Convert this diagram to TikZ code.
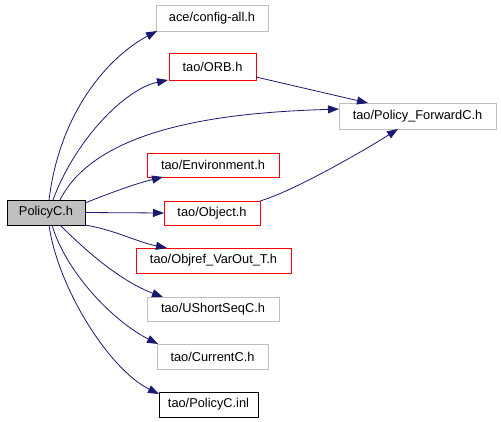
\documentclass[tikz,border=0pt]{standalone}
\usepackage{fontspec}
\setmainfont{Liberation Sans}
\usepackage{tikz}
\usetikzlibrary{arrows.meta, positioning, calc}
\usepackage{xcolor}
\definecolor{edgeblue}{RGB}{25,25,112}
\definecolor{boxgray}{RGB}{191,191,191}
\definecolor{boxred}{RGB}{255,0,0}
\tikzset{
  inc/.style={rectangle, draw=boxgray, fill=white, line width=0.9pt,
    minimum height=25pt, inner sep=0pt, outer sep=0pt,
    font=\fontsize{12.8}{15}\selectfont},
  incR/.style={inc, draw=boxred},
  incK/.style={inc, draw=black},
  incSel/.style={inc, draw=black, fill=boxgray},
  dep/.style={-{Triangle[length=11pt, width=8pt]}, line width=0.8pt,
    draw=edgeblue},
}

\begin{document}
\begin{tikzpicture}[x=1pt, y=-1pt]
  \useasboundingbox (0,0) rectangle (501,421);

  % ---- file being documented ----
  \node[incSel, minimum width=78pt] (policy) at (46,212.5) {PolicyC.h};

  % ---- included headers ----
  \node[inc,  minimum width=112pt, minimum height=26pt] (config) at (212,18)
        {ace/config-all.h};
  \node[incR, minimum width=87pt, minimum height=27pt]  (orb)    at (212.5,66.5)
        {tao/ORB.h};
  \node[inc,  minimum width=157pt, minimum height=26pt] (fwd)    at (417.5,116)
        {tao/Policy\_ForwardC.h};
  \node[incR, minimum width=132pt, minimum height=24pt] (env)    at (213,165)
        {tao/Environment.h};
  \node[incR, minimum width=96pt, minimum height=24pt]  (obj)    at (212,213)
        {tao/Object.h};
  \node[incR, minimum width=155pt] (objref) at (213.5,260.5)
        {tao/Objref\_VarOut\_T.h};
  \node[inc,  minimum width=132pt, minimum height=24pt] (ushort) at (213,309)
        {tao/UShortSeqC.h};
  \node[inc,  minimum width=111pt] (current) at (212.5,356.5)
        {tao/CurrentC.h};
  \node[incK, minimum width=99pt]  (inl)     at (208.5,404.5)
        {tao/PolicyC.inl};

  % ---- Arrows ----
  \draw[dep] ([xshift=3pt]policy.north) .. controls +(11,-90) and +(-47,25)
        .. ([xshift=1pt]config.south west);
  \draw[dep] ([xshift=7pt]policy.north) .. controls +(22,-60) and +(-43,9)
        .. ([xshift=-1pt]orb.south west);
  \draw[dep] ([xshift=14pt]policy.north) .. controls +(40,-80) and +(-88,3)
        .. ([yshift=7pt]fwd.west);
  \draw[dep] ([yshift=-3pt]policy.north east) .. controls +(30,-12) and +(-25,6)
        .. ([xshift=16pt]env.south west);
  \draw[dep] (policy.east) -- (obj.west);
  \draw[dep] (policy.south east) .. controls +(30,5) and +(-30,-6)
        .. ([xshift=31pt]objref.north west);
  \draw[dep] ([xshift=14pt]policy.south) .. controls +(25,25) and +(-43,-16)
        .. ([xshift=16pt]ushort.north west);
  \draw[dep] ([xshift=6pt]policy.south) .. controls +(13,45) and +(-47,-24)
        .. ([xshift=1pt]current.north west);
  \draw[dep] ([xshift=3pt]policy.south) .. controls +(9,64) and +(-49,-24)
        .. ([yshift=-2pt]inl.north west);
  \draw[dep] ([yshift=3pt]orb.south east) -- ([xshift=29pt]fwd.north west);
  \draw[dep] (obj.north east) .. controls +(34,-10) and +(-33,21)
        .. ([xshift=59pt]fwd.south west);
\end{tikzpicture}
\end{document}
